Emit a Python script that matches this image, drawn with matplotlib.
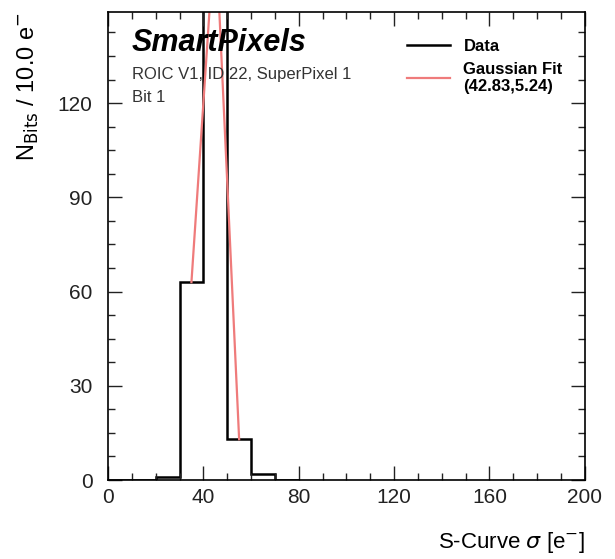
import matplotlib.pyplot as plt
import numpy as np
from matplotlib.ticker import MultipleLocator
from matplotlib.lines import Line2D

plt.rcParams['font.family'] = ['Liberation Sans', 'DejaVu Sans']

# histogram of S-curve sigma, 10 e- bins
bin_edges = [0, 10, 20, 30, 40, 50, 60, 70, 80]
counts = [0, 0, 1, 63, 170, 13, 2, 0]

# gaussian fit evaluated at bin centres (mean 42.83, sigma 5.24)
fit_x = [35, 45, 55]
fit_y = [63, 177, 13]
fit_label = "Gaussian Fit\n(42.83,5.24)"

fig = plt.figure(figsize=(6.15, 5.59), dpi=100)
ax = fig.add_axes([0.1756, 0.1413, 0.7754, 0.8372])

ax.stairs(counts, bin_edges, color='black', linewidth=1.8, baseline=0)
ax.plot(fit_x, fit_y, color='#ef7b7b', linewidth=1.6)

ax.set_xlim(0, 200)
ax.set_ylim(0, 149)
ax.xaxis.set_major_locator(MultipleLocator(40))
ax.xaxis.set_minor_locator(MultipleLocator(10))
ax.yaxis.set_major_locator(MultipleLocator(30))
ax.yaxis.set_minor_locator(MultipleLocator(7.5))
ax.tick_params(which='both', direction='in', top=True, right=True, labelsize=15, colors='#222222')
ax.tick_params(which='major', length=10, width=1.0)
ax.tick_params(which='minor', length=5, width=1.0)
ax.tick_params(axis='x', pad=6)
ax.tick_params(axis='y', pad=11)
for s in ax.spines.values():
    s.set_linewidth(1.2)

ax.set_xlabel(r'S-Curve $\sigma$ [e$^{-}$]', fontsize=16, loc='right', labelpad=16)
ax.set_ylabel(r'N$_{\mathrm{Bits}}$ / 10.0 e$^{-}$', fontsize=17, loc='top', labelpad=12)

ax.text(0.05, 0.966, 'SmartPixels', transform=ax.transAxes, fontsize=22,
        fontweight='bold', fontstyle='italic', va='top')
ax.text(0.05, 0.866, 'ROIC V1, ID 22, SuperPixel 1', transform=ax.transAxes,
        fontsize=12, color='#333333', va='center')
ax.text(0.05, 0.818, 'Bit 1', transform=ax.transAxes, fontsize=12,
        color='#333333', va='center')

handles = [Line2D([], [], color='black', lw=1.8),
           Line2D([], [], color='#ef7b7b', lw=1.6)]
leg = ax.legend(handles, ['Data', fit_label], loc='upper right',
                bbox_to_anchor=(0.985, 0.975), frameon=False,
                prop={'weight': 'bold', 'size': 12}, handlelength=2.6,
                handletextpad=0.8, labelspacing=0.5)

fig.savefig('out.png', dpi=100)
